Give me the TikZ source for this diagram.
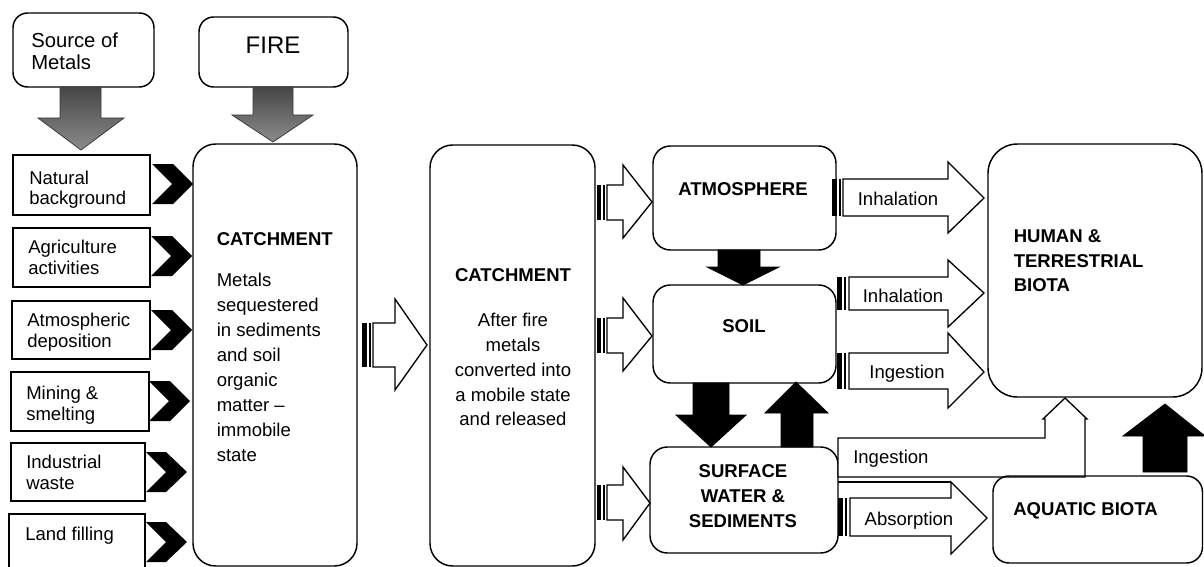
\documentclass[tikz,border=0pt]{standalone}
\usepackage{fontspec}
\setmainfont{Liberation Sans}

\begin{document}
\begin{tikzpicture}[x=0.75pt,y=0.75pt,yscale=-1,xscale=1,
  box/.style={line width=1.1pt},
  rbox/.style={line width=1.1pt, rounded corners=#1},
  rbox/.default=13pt,
  blockarr/.style={line width=1pt, fill=white},
  stripe/.style={fill=black},
  solidarr/.style={fill=black, draw=black, line width=0.6pt},
  grayarr/.style={draw={rgb, 255:red, 60; green, 60; blue, 60}, line width=0.6pt, top color={rgb, 255:red, 70; green, 70; blue, 70}, bottom color={rgb, 255:red, 140; green, 140; blue, 140}},
  lbl/.style={inner sep=0.75pt, align=left, font=\fontsize{13.9}{15.5}\selectfont},
  bodytxt/.style={inner sep=0.75pt, font=\fontsize{13.9}{18.7}\selectfont},
  headtxt/.style={inner sep=0.75pt, font=\fontsize{13.9}{18.5}\selectfont\bfseries}
]
\useasboundingbox (0,0) rectangle (1204,567);

%Shape: Rounded Rect (source)
\draw [rbox=11pt] (13,13) rectangle (154,87);
%Shape: Rounded Rect (fire)
\draw [rbox=11pt] (199,17) rectangle (348,87);
%Shape: Down Arrow
\shadedraw [grayarr] (60,87) -- (101,87) -- (101,118) -- (124,118) -- (81,150) -- (38,118) -- (60,118) -- cycle ;
%Shape: Down Arrow
\shadedraw [grayarr] (253,87) -- (293,87) -- (293,115) -- (313,115) -- (273,142) -- (232,115) -- (253,115) -- cycle ;

%Shape: Rectangle (sources of metals)
\draw [box] (13,155) rectangle (150,215) ;
\draw [box] (13,228) rectangle (150,287) ;
\draw [box] (12,301) rectangle (150,359) ;
\draw [box] (11,372) rectangle (149,431) ;
\draw [box] (11,443) rectangle (145,501) ;
\draw [box] (9,514) rectangle (145,580) ;

%Shape: Chevron
\fill (152,164) -- (173,164) -- (193,184) -- (173,204) -- (152,204) -- (172,184) -- cycle ;
\fill (151,236) -- (172,236) -- (192,256) -- (172,276) -- (151,276) -- (171,256) -- cycle ;
\fill (151,310) -- (172,310) -- (192,330) -- (172,350) -- (151,350) -- (171,330) -- cycle ;
\fill (149,381) -- (170,381) -- (190,401) -- (170,421) -- (149,421) -- (169,401) -- cycle ;
\fill (146,452) -- (166,452) -- (187,472) -- (166,492) -- (146,492) -- (166,472) -- cycle ;
\fill (146,522) -- (166,522) -- (187,542) -- (166,562) -- (146,562) -- (166,542) -- cycle ;

%Shape: Rounded Rect (catchment before fire)
\draw [rbox=17pt] (193,144) rectangle (357,566) ;
%Shape: Striped Right Arrow
\fill [stripe] (362,323) rectangle (367,367) ;
\fill [stripe] (369,323) rectangle (371,367) ;
\draw [blockarr] (373,323) -- (395,323) -- (395,299) -- (427,345) -- (395,390) -- (395,367) -- (373,367) -- cycle ;
%Shape: Rounded Rect (catchment after fire)
\draw [rbox=17pt] (430,145) rectangle (595,566) ;

%Shape: Striped Right Arrow
\fill [stripe] (597,185) rectangle (601,220) ;
\fill [stripe] (603,185) rectangle (605,220) ;
\draw [blockarr] (607,185) -- (623,185) -- (623,165) -- (652,202) -- (623,238) -- (623,220) -- (607,220) -- cycle ;
%Shape: Striped Right Arrow
\fill [stripe] (597,318) rectangle (601,353) ;
\fill [stripe] (603,318) rectangle (605,353) ;
\draw [blockarr] (607,318) -- (623,318) -- (623,298) -- (652,336) -- (623,371) -- (623,353) -- (607,353) -- cycle ;
%Shape: Striped Right Arrow
\fill [stripe] (597,485) rectangle (601,520) ;
\fill [stripe] (603,485) rectangle (605,520) ;
\draw [blockarr] (607,485) -- (623,485) -- (623,467) -- (650,503) -- (623,540) -- (623,520) -- (607,520) -- cycle ;

%Shape: Rounded Rect (atmosphere)
\draw [rbox] (653,146) rectangle (836,250) ;
%Shape: Rounded Rect (soil)
\draw [rbox] (653,285) rectangle (836,383) ;
%Shape: Rounded Rect (surface water)
\draw [rbox] (650,447) rectangle (838,553) ;

%Shape: Down Arrow
\draw [solidarr] (718,250) -- (760,250) -- (760,267) -- (779,267) -- (743,285) -- (707,267) -- (718,267) -- cycle ;
%Shape: Down Arrow
\draw [solidarr] (693,383) -- (729,383) -- (729,415) -- (746,415) -- (711,447) -- (676,415) -- (693,415) -- cycle ;
%Shape: Up Arrow
\draw [solidarr] (781,447) -- (813,447) -- (813,413) -- (828,413) -- (796,382) -- (765,413) -- (781,413) -- cycle ;
%Shape: Up Arrow
\draw [solidarr] (1143,472) -- (1187,472) -- (1187,436) -- (1205,436) -- (1165,404) -- (1123,436) -- (1143,436) -- cycle ;

%Shape: Striped Right Arrow (inhalation)
\fill [stripe] (832,179) rectangle (837,216) ;
\fill [stripe] (839,179) rectangle (841,216) ;
\draw [blockarr] (843,179) -- (948,179) -- (948,162) -- (984,198) -- (948,233) -- (948,216) -- (843,216) -- cycle ;
%Shape: Striped Right Arrow (inhalation)
\fill [stripe] (837,277) rectangle (842,310) ;
\fill [stripe] (844,277) rectangle (846,310) ;
\draw [blockarr] (849,277) -- (948,277) -- (948,260) -- (984,293) -- (948,327) -- (948,310) -- (849,310) -- cycle ;
%Shape: Striped Right Arrow (ingestion)
\fill [stripe] (837,353) rectangle (842,389) ;
\fill [stripe] (844,353) rectangle (846,389) ;
\draw [blockarr] (849,353) -- (948,353) -- (948,333) -- (984,372) -- (948,408) -- (948,389) -- (849,389) -- cycle ;

%Shape: Bent Up Arrow (ingestion)
\draw [blockarr] (838,438) -- (1045,438) -- (1045,419) -- (1043,419) -- (1065,398) -- (1087,419) -- (1085,419) -- (1085,477) -- (838,477) -- cycle ;
%Straight Lines
\draw [line width=1pt] (838,482) -- (951,482) ;
%Shape: Striped Right Arrow (absorption)
\fill [stripe] (838,498) rectangle (843,536) ;
\fill [stripe] (845,498) rectangle (847,536) ;
\draw [blockarr] (850,498) -- (951,498) -- (951,482) -- (987,518) -- (951,554) -- (951,536) -- (850,536) -- cycle ;

%Shape: Rounded Rect (human)
\draw [rbox=22pt] (988,144) rectangle (1202,397) ;
%Shape: Rounded Rect (aquatic)
\draw [rbox=12pt] (993,476) rectangle (1202.5,563) ;

% Text Node
\node [lbl, anchor=north west, font=\fontsize{15.2}{16.5}\selectfont] (src) at (30,32) {Source of\\Metals};
% Text Node
\node [inner sep=0.75pt, font=\fontsize{18}{20}\selectfont] (fire) at (273,45) {FIRE};
% Text Node
\node [lbl, anchor=north west] (natural) at (28,169.5) {Natural\\background};
% Text Node
\node [lbl, anchor=north west] (agri) at (27,239) {Agriculture\\activities};
% Text Node
\node [lbl, anchor=north west] (atmdep) at (26,312) {Atmospheric\\deposition};
% Text Node
\node [lbl, anchor=north west] (mining) at (25,385) {Mining \&\\smelting};
% Text Node
\node [lbl, anchor=north west] (waste) at (25,454) {Industrial\\waste};
% Text Node
\node [lbl, anchor=north west] (landfill) at (24,526) {Land filling};
% Text Node
\node [headtxt, anchor=north west] (catchA) at (215.5,231) {CATCHMENT};
% Text Node
\node [bodytxt, anchor=north west, align=left] (catchAtxt) at (215.5,272) {Metals\\sequestered\\in sediments\\and soil\\organic\\matter --\\immobile\\state};
% Text Node
\node [headtxt] (catchB) at (513,275) {CATCHMENT};
% Text Node
\node [bodytxt, anchor=north, align=center, font=\fontsize{13.9}{18.6}\selectfont] (catchBtxt) at (513,312) {After fire\\metals\\converted into\\a mobile state\\and released};
% Text Node
\node [headtxt] (atmos) at (743,189) {ATMOSPHERE};
% Text Node
\node [headtxt] (soil) at (744,326) {SOIL};
% Text Node
\node [headtxt, anchor=north, align=center] (surface) at (743,463.5) {SURFACE\\WATER \&\\SEDIMENTS};
% Text Node
\node [headtxt, anchor=north west, align=left, font=\fontsize{13.9}{18.4}\selectfont\bfseries] (human) at (1012.5,228.5) {HUMAN \&\\TERRESTRIAL\\BIOTA};
% Text Node
\node [headtxt, anchor=base west] (aquatic) at (1012,515.5) {AQUATIC BIOTA};
% Text Node
\node [lbl, anchor=base] (inhalA) at (898,205.5) {Inhalation};
% Text Node
\node [lbl, anchor=base] (inhalB) at (903,302.5) {Inhalation};
% Text Node
\node [lbl, anchor=base] (ingestA) at (907,378) {Ingestion};
% Text Node
\node [lbl, anchor=base west] (ingestB) at (852,463) {Ingestion};
% Text Node
\node [lbl, anchor=base] (absorb) at (909,525) {Absorption};

\end{tikzpicture}
\end{document}
